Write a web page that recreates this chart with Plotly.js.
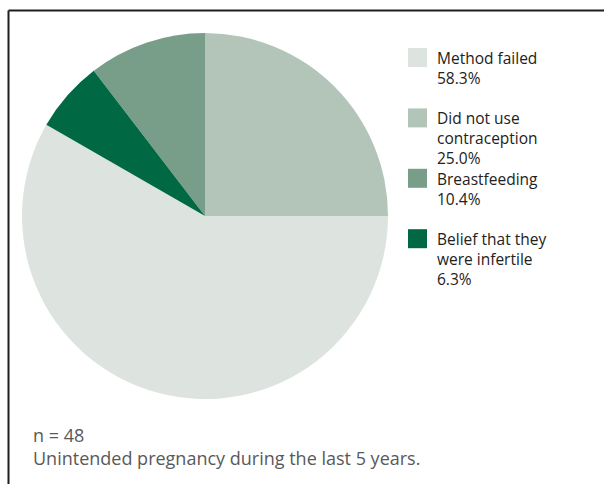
<!DOCTYPE html>
<html>
<head>
<meta charset="utf-8">
<script src="https://cdn.plot.ly/plotly-3.0.1.min.js"></script>
<style>
  html, body { margin: 0; padding: 0; background: #fff; }
  #chart { width: 604px; height: 484px; }
</style>
</head>
<body>
<div id="chart"></div>
<script>
// ---- data ----
const categories = ["Method failed", "Did not use contraception", "Breastfeeding", "Belief that they were infertile"];
const shares = [58.3, 25.0, 10.4, 6.3];
const sliceColors = ["#dde4df", "#b3c5b9", "#789e89", "#006944"];
const noteLines = ["n = 48", "Unintended pregnancy during the last 5 years."];

// ---- helpers ----
const W = 604, H = 484;
const px = x => x / W;
const py = y => 1 - y / H;

function wrapLines(text, maxChars) {
  const words = text.split(" ");
  const lines = [];
  let cur = "";
  words.forEach(w => {
    const cand = cur ? cur + " " + w : w;
    if (cand.length > maxChars && cur) { lines.push(cur); cur = w; }
    else cur = cand;
  });
  if (cur) lines.push(cur);
  return lines;
}

const cx = 205, cy = 216, r = 183;

const pie = {
  type: "pie",
  labels: categories,
  values: shares,
  sort: false,
  direction: "counterclockwise",
  rotation: 90,
  textinfo: "none",
  hoverinfo: "label+percent",
  showlegend: false,
  marker: { colors: sliceColors, line: { width: 0 } },
  domain: { x: [px(cx - r), px(cx + r)], y: [py(cy + r), py(cy - r)] }
};

const shapes = [
  { type: "line", xref: "paper", yref: "paper", x0: px(8.5), x1: px(620), y0: py(10.5), y1: py(10.5),
    line: { color: "#1e1e1e", width: 2 } },
  { type: "line", xref: "paper", yref: "paper", x0: px(8.5), x1: px(8.5), y0: py(10.5), y1: py(500),
    line: { color: "#1e1e1e", width: 2 } }
];
const annotations = [];

const legX = 408, legTop = 48, legStep = 60.4, sq = 19;
const legFont = { family: "Open Sans, sans-serif", size: 15.5, color: "#222222" };
categories.forEach((c, i) => {
  const top = legTop + i * legStep;
  shapes.push({ type: "rect", xref: "paper", yref: "paper",
    x0: px(legX), x1: px(legX + sq), y0: py(top + sq), y1: py(top),
    fillcolor: sliceColors[i], line: { width: 0 } });
  const lines = wrapLines(c, 16).concat([shares[i].toFixed(1) + "%"]);
  annotations.push({ xref: "paper", yref: "paper", x: px(435), y: py(top - 3),
    xanchor: "left", yanchor: "top", align: "left", showarrow: false,
    text: lines.join("<br>"), font: legFont });
});

const noteFont = { family: "Open Sans, sans-serif", size: 18, color: "#595959" };
annotations.push({ xref: "paper", yref: "paper", x: px(31), y: py(421),
  xanchor: "left", yanchor: "top", align: "left", showarrow: false,
  text: noteLines.join("<br>"), font: noteFont });

const layout = {
  width: W, height: H,
  margin: { l: 0, r: 0, t: 0, b: 0 },
  paper_bgcolor: "#ffffff",
  showlegend: false,
  shapes: shapes,
  annotations: annotations
};

Plotly.newPlot("chart", [pie], layout, { staticPlot: true });
</script>
</body>
</html>
